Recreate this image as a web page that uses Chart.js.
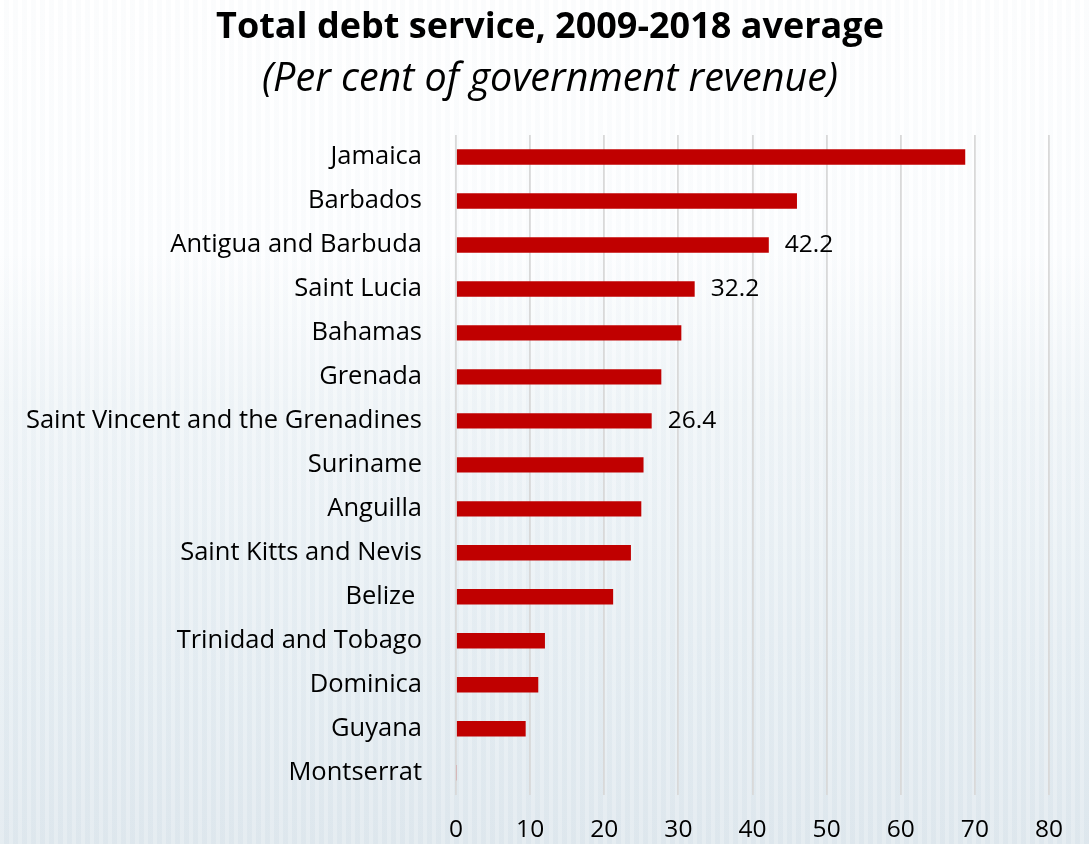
<!DOCTYPE html>
<html>

<head>
    <title>Total debt service</title>
    <script src="https://cdn.jsdelivr.net/npm/chart.js"></script>
    <style>
        html,
        body {
            margin: 0;
            padding: 0;
        }

        body {
            width: 1089px;
            height: 844px;
            overflow: hidden;
            background:
                repeating-linear-gradient(90deg, rgba(255, 255, 255, 0.2) 0px, rgba(255, 255, 255, 0.2) 4px, rgba(205, 216, 226, 0.08) 4px, rgba(205, 216, 226, 0.08) 9px),
                linear-gradient(to bottom, #ffffff 0%, #fdfeff 30%, #f0f5f8 48%, #e6eef3 75%, #dfe8ee 100%);
        }

        #wrap {
            position: relative;
            width: 1089px;
            height: 844px;
        }

        .heading {
            position: absolute;
            left: 0;
            width: 1100px;
            text-align: center;
            font-family: "Open Sans", sans-serif;
            color: #000;
            margin: 0;
            height: 50px;
            line-height: 50px;
            white-space: nowrap;
        }

        #title {
            top: 0;
            font-size: 36px;
            font-weight: bold;
        }

        #subtitle {
            top: 51px;
            font-size: 39.5px;
            font-style: italic;
            font-weight: normal;
        }

        canvas {
            position: absolute;
            left: 0;
            top: 0;
        }
    </style>
</head>

<body>
    <div id="wrap">
        <canvas id="debtChart" width="1089" height="844"></canvas>
        <h1 class="heading" id="title">Total debt service, 2009-2018 average</h1>
        <h2 class="heading" id="subtitle">(Per cent of government revenue)</h2>
    </div>

    <script>
        const countries = [
            'Jamaica', 'Barbados', 'Antigua and Barbuda', 'Saint Lucia', 'Bahamas',
            'Grenada', 'Saint Vincent and the Grenadines', 'Suriname', 'Anguilla',
            'Saint Kitts and Nevis', 'Belize ', 'Trinidad and Tobago', 'Dominica',
            'Guyana', 'Montserrat'
        ];
        const debtService = [68.7, 46.0, 42.2, 32.2, 30.4, 27.7, 26.4, 25.3, 25.0, 23.6, 21.2, 12.0, 11.1, 9.4, 0.1];
        // only a few bars carry a value label in the original
        const shownLabels = [null, null, '42.2', '32.2', null, null, '26.4', null, null, null, null, null, null, null, null];
        const xTicks = [0, 10, 20, 30, 40, 50, 60, 70, 80];

        const labelFont = '"Open Sans", "DejaVu Sans", sans-serif';

        // draws the few value labels to the right of their bars
        const valueLabels = {
            id: 'valueLabels',
            afterDatasetsDraw(chart) {
                const ctx = chart.ctx;
                const meta = chart.getDatasetMeta(0);
                ctx.save();
                ctx.font = '24.5px ' + labelFont;
                ctx.fillStyle = '#000';
                ctx.textAlign = 'left';
                ctx.textBaseline = 'middle';
                meta.data.forEach((bar, i) => {
                    if (shownLabels[i]) ctx.fillText(shownLabels[i], bar.x + 16, bar.y);
                });
                ctx.restore();
            }
        };

        new Chart(document.getElementById('debtChart'), {
            type: 'bar',
            data: {
                labels: countries,
                datasets: [{
                    data: debtService,
                    backgroundColor: '#C00000',
                    borderWidth: 0,
                    barPercentage: 0.7,
                    categoryPercentage: 0.5
                }]
            },
            options: {
                indexAxis: 'y',
                responsive: false,
                animation: false,
                layout: { padding: { top: 135, right: 40, bottom: 0, left: 0 } },
                plugins: {
                    legend: { display: false },
                    tooltip: { enabled: false }
                },
                scales: {
                    x: {
                        min: 0,
                        max: 80,
                        afterBuildTicks: (axis) => {
                            axis.ticks = xTicks.map(v => ({ value: v }));
                        },
                        afterFit: (axis) => { axis.height = 47; },
                        border: { display: false },
                        grid: { color: '#d9d9d9', lineWidth: 1.8, drawTicks: false },
                        ticks: {
                            color: '#000',
                            padding: 21,
                            font: { family: labelFont, size: 24.5 }
                        }
                    },
                    y: {
                        afterFit: (axis) => { axis.width = 456; },
                        border: { display: false },
                        grid: { display: false, drawTicks: false },
                        ticks: {
                            color: '#000',
                            padding: 34,
                            autoSkip: false,
                            font: { family: labelFont, size: 25.5 }
                        }
                    }
                }
            },
            plugins: [valueLabels]
        });
    </script>

</body>

</html>
